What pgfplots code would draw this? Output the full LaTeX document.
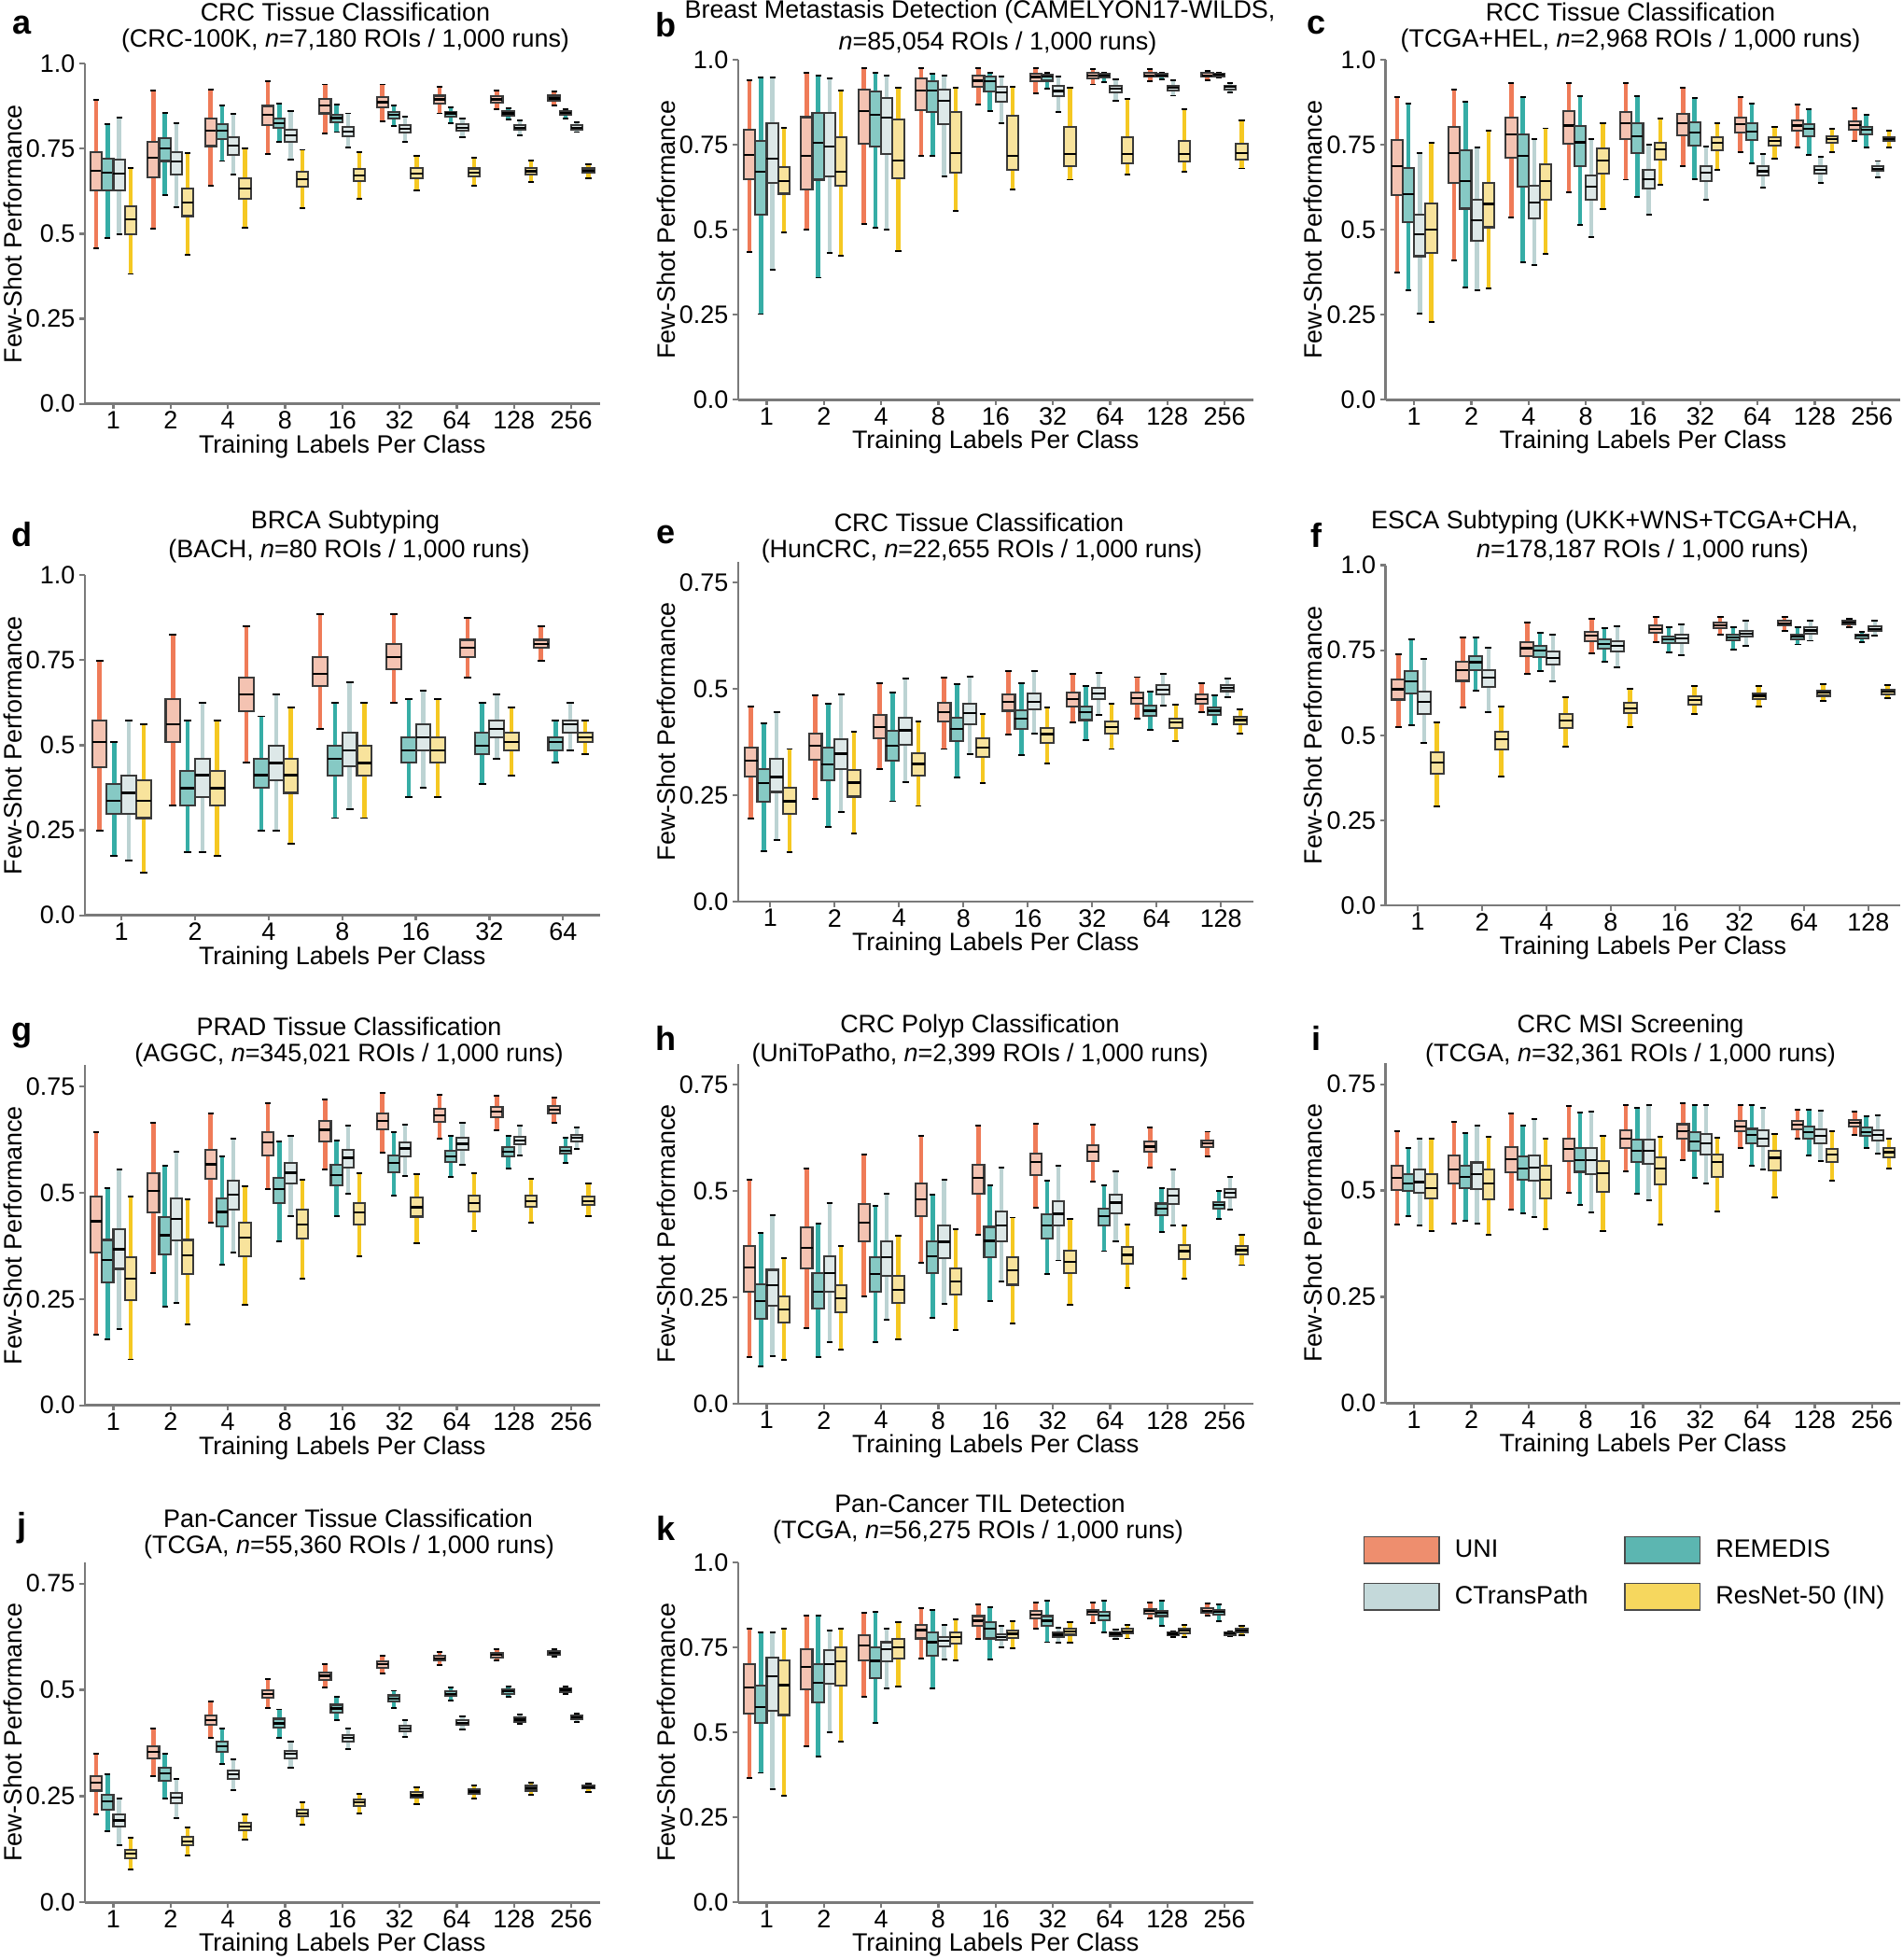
\documentclass[border=0pt]{standalone}
\usepackage{fontspec}
\setmainfont{Liberation Sans}
\usepackage{pgfplots}
\usepackage{pgfplotstable}
\pgfplotsset{compat=1.18}
\usepgfplotslibrary{statistics}

\definecolor{uniF}{HTML}{F4C3B2}
\definecolor{remF}{HTML}{86C9C4}
\definecolor{ctpF}{HTML}{DDE8E8}
\definecolor{rnF}{HTML}{F8E39C}
\definecolor{uniW}{HTML}{EF7B58}
\definecolor{remW}{HTML}{36ADA6}
\definecolor{ctpW}{HTML}{BCD3D3}
\definecolor{rnW}{HTML}{F5C822}
\definecolor{uniL}{HTML}{EE8E6E}
\definecolor{remL}{HTML}{5CB6B1}
\definecolor{ctpL}{HTML}{C4D9DA}
\definecolor{rnL}{HTML}{F6D75E}
\definecolor{edgec}{HTML}{3A3A3A}
\definecolor{axgray}{HTML}{7A7A7A}
\definecolor{legedge}{HTML}{4A4A4A}

\newcommand\fsz{\fontsize{9.7}{11.6}\selectfont}
\def\PX{0.36pt}

% ---------------- data: rows = category x (UNI, REMEDIS, CTransPath, ResNet-50) ----
\pgfplotstableread{
uw uq med lq lw
0.895 0.741 0.686 0.627 0.457
0.822 0.721 0.680 0.627 0.488
0.842 0.718 0.678 0.627 0.499
0.694 0.581 0.543 0.499 0.382
0.922 0.771 0.723 0.666 0.515
0.856 0.782 0.751 0.714 0.613
0.826 0.741 0.712 0.675 0.579
0.737 0.632 0.591 0.552 0.439
0.925 0.838 0.803 0.758 0.641
0.878 0.823 0.803 0.779 0.714
0.852 0.783 0.760 0.733 0.675
0.750 0.664 0.634 0.604 0.518
0.948 0.876 0.849 0.819 0.735
0.884 0.840 0.826 0.811 0.769
0.860 0.806 0.790 0.769 0.718
0.747 0.683 0.661 0.639 0.575
0.939 0.897 0.878 0.854 0.794
0.879 0.851 0.840 0.829 0.799
0.854 0.814 0.801 0.787 0.753
0.741 0.691 0.672 0.654 0.602
0.939 0.901 0.887 0.872 0.831
0.877 0.858 0.849 0.838 0.817
0.844 0.819 0.808 0.797 0.771
0.728 0.693 0.678 0.663 0.627
0.931 0.906 0.895 0.883 0.854
0.872 0.858 0.854 0.844 0.826
0.840 0.822 0.812 0.803 0.783
0.723 0.692 0.680 0.669 0.641
0.922 0.904 0.895 0.886 0.865
0.869 0.861 0.854 0.847 0.835
0.833 0.820 0.812 0.805 0.790
0.715 0.693 0.684 0.675 0.652
0.918 0.906 0.898 0.890 0.876
0.867 0.861 0.855 0.849 0.840
0.828 0.819 0.812 0.806 0.799
0.705 0.692 0.686 0.679 0.663
}\DA
\pgfplotstableread{
uw uq med lq lw
0.940 0.794 0.720 0.648 0.435
0.947 0.762 0.670 0.544 0.252
0.947 0.814 0.709 0.638 0.382
0.799 0.683 0.642 0.606 0.492
0.962 0.831 0.716 0.618 0.499
0.954 0.844 0.755 0.647 0.359
0.945 0.844 0.744 0.656 0.432
0.910 0.771 0.671 0.629 0.424
0.976 0.912 0.849 0.752 0.517
0.961 0.906 0.837 0.744 0.506
0.952 0.887 0.830 0.723 0.501
0.917 0.825 0.703 0.652 0.436
0.976 0.944 0.910 0.851 0.718
0.959 0.936 0.910 0.846 0.716
0.954 0.912 0.878 0.810 0.657
0.918 0.846 0.726 0.668 0.556
0.976 0.953 0.938 0.919 0.867
0.962 0.949 0.936 0.906 0.849
0.950 0.921 0.903 0.876 0.814
0.919 0.834 0.716 0.675 0.619
0.976 0.958 0.949 0.936 0.901
0.961 0.956 0.950 0.938 0.915
0.949 0.924 0.908 0.892 0.846
0.917 0.803 0.723 0.686 0.647
0.973 0.961 0.953 0.945 0.927
0.961 0.958 0.953 0.947 0.935
0.942 0.924 0.915 0.904 0.878
0.885 0.773 0.723 0.695 0.661
0.972 0.961 0.954 0.949 0.936
0.961 0.959 0.954 0.949 0.942
0.940 0.924 0.918 0.910 0.894
0.855 0.762 0.723 0.700 0.670
0.968 0.961 0.954 0.949 0.940
0.961 0.959 0.956 0.951 0.947
0.931 0.924 0.919 0.913 0.904
0.822 0.753 0.726 0.707 0.680
}\DB
\pgfplotstableread{
uw uq med lq lw
0.891 0.763 0.686 0.601 0.373
0.870 0.681 0.605 0.521 0.323
0.724 0.544 0.486 0.422 0.254
0.756 0.576 0.500 0.431 0.229
0.912 0.802 0.725 0.638 0.409
0.875 0.733 0.643 0.562 0.329
0.742 0.587 0.528 0.468 0.323
0.791 0.637 0.576 0.507 0.327
0.932 0.830 0.780 0.711 0.535
0.889 0.779 0.718 0.626 0.405
0.766 0.628 0.580 0.533 0.395
0.798 0.693 0.643 0.587 0.430
0.930 0.848 0.806 0.752 0.611
0.893 0.806 0.757 0.688 0.515
0.766 0.660 0.626 0.587 0.478
0.812 0.738 0.704 0.665 0.560
0.930 0.847 0.814 0.766 0.647
0.893 0.814 0.775 0.724 0.597
0.751 0.676 0.649 0.622 0.544
0.827 0.756 0.736 0.707 0.633
0.917 0.841 0.814 0.777 0.686
0.887 0.815 0.786 0.748 0.649
0.745 0.686 0.667 0.644 0.588
0.812 0.772 0.756 0.733 0.676
0.889 0.829 0.811 0.786 0.729
0.870 0.814 0.789 0.763 0.695
0.722 0.686 0.672 0.660 0.623
0.803 0.772 0.761 0.747 0.708
0.868 0.821 0.806 0.791 0.742
0.853 0.811 0.797 0.775 0.720
0.713 0.687 0.676 0.665 0.638
0.797 0.775 0.766 0.756 0.729
0.856 0.818 0.807 0.793 0.761
0.839 0.803 0.793 0.779 0.743
0.702 0.688 0.679 0.672 0.654
0.791 0.772 0.766 0.761 0.742
}\DC
\pgfplotstableread{
uw uq med lq lw
0.749 0.573 0.510 0.435 0.250
0.510 0.387 0.336 0.298 0.175
0.573 0.412 0.360 0.298 0.161
0.561 0.398 0.336 0.286 0.125
0.824 0.635 0.561 0.510 0.324
0.573 0.424 0.374 0.324 0.186
0.624 0.460 0.412 0.348 0.186
0.573 0.424 0.374 0.324 0.175
0.850 0.699 0.649 0.599 0.448
0.585 0.460 0.412 0.374 0.250
0.649 0.499 0.448 0.396 0.250
0.610 0.460 0.412 0.360 0.211
0.886 0.760 0.710 0.674 0.549
0.624 0.499 0.460 0.412 0.286
0.686 0.537 0.485 0.437 0.312
0.624 0.499 0.448 0.412 0.286
0.886 0.798 0.760 0.724 0.624
0.635 0.523 0.485 0.448 0.348
0.660 0.561 0.523 0.485 0.374
0.635 0.523 0.485 0.448 0.348
0.874 0.810 0.786 0.760 0.699
0.624 0.537 0.499 0.473 0.387
0.649 0.573 0.549 0.523 0.460
0.610 0.537 0.510 0.485 0.412
0.850 0.810 0.798 0.786 0.749
0.573 0.523 0.510 0.485 0.448
0.624 0.573 0.561 0.537 0.485
0.573 0.537 0.523 0.510 0.473
}\DD
\pgfplotstableread{
uw uq med lq lw
0.459 0.363 0.331 0.295 0.195
0.419 0.312 0.278 0.234 0.119
0.445 0.335 0.293 0.258 0.145
0.359 0.268 0.236 0.207 0.116
0.485 0.395 0.366 0.334 0.241
0.465 0.362 0.322 0.286 0.176
0.487 0.383 0.348 0.312 0.211
0.399 0.310 0.280 0.247 0.161
0.514 0.440 0.410 0.385 0.312
0.491 0.402 0.367 0.331 0.236
0.524 0.432 0.403 0.368 0.280
0.423 0.350 0.324 0.297 0.225
0.527 0.467 0.446 0.423 0.359
0.511 0.432 0.407 0.377 0.293
0.530 0.465 0.443 0.417 0.346
0.441 0.384 0.363 0.340 0.278
0.542 0.487 0.469 0.449 0.394
0.514 0.451 0.430 0.407 0.345
0.542 0.489 0.470 0.452 0.396
0.457 0.408 0.394 0.374 0.324
0.536 0.491 0.476 0.459 0.421
0.507 0.458 0.445 0.427 0.379
0.538 0.502 0.489 0.476 0.440
0.465 0.424 0.410 0.396 0.359
0.528 0.491 0.478 0.465 0.430
0.494 0.461 0.449 0.436 0.403
0.535 0.509 0.498 0.487 0.461
0.463 0.430 0.421 0.408 0.378
0.513 0.487 0.476 0.465 0.445
0.485 0.456 0.449 0.440 0.418
0.524 0.509 0.502 0.495 0.480
0.452 0.434 0.427 0.418 0.396
}\DE
\pgfplotstableread{
uw uq med lq lw
0.737 0.665 0.635 0.605 0.523
0.781 0.689 0.658 0.624 0.530
0.724 0.628 0.598 0.562 0.477
0.539 0.449 0.420 0.386 0.292
0.788 0.717 0.692 0.660 0.582
0.788 0.733 0.715 0.691 0.630
0.758 0.692 0.669 0.642 0.569
0.584 0.511 0.489 0.458 0.379
0.831 0.774 0.756 0.733 0.680
0.801 0.763 0.749 0.731 0.688
0.797 0.747 0.728 0.708 0.658
0.612 0.563 0.543 0.522 0.466
0.843 0.805 0.792 0.776 0.740
0.815 0.781 0.769 0.755 0.717
0.820 0.776 0.763 0.746 0.700
0.637 0.595 0.580 0.566 0.523
0.849 0.822 0.813 0.802 0.774
0.819 0.790 0.781 0.770 0.744
0.825 0.797 0.785 0.772 0.735
0.646 0.615 0.603 0.589 0.562
0.849 0.831 0.824 0.816 0.795
0.819 0.795 0.787 0.779 0.753
0.836 0.808 0.799 0.790 0.763
0.646 0.624 0.616 0.607 0.584
0.847 0.836 0.829 0.822 0.808
0.817 0.797 0.790 0.783 0.767
0.836 0.817 0.808 0.799 0.778
0.650 0.632 0.626 0.616 0.600
0.842 0.836 0.831 0.825 0.817
0.805 0.797 0.792 0.785 0.774
0.836 0.820 0.813 0.806 0.793
0.647 0.635 0.628 0.621 0.610
}\DF
\pgfplotstableread{
uw uq med lq lw
0.642 0.492 0.433 0.359 0.166
0.510 0.389 0.342 0.290 0.155
0.554 0.415 0.367 0.321 0.179
0.492 0.348 0.298 0.248 0.108
0.665 0.547 0.505 0.453 0.311
0.563 0.442 0.400 0.355 0.233
0.596 0.487 0.439 0.388 0.241
0.484 0.389 0.353 0.309 0.190
0.687 0.601 0.567 0.532 0.430
0.585 0.487 0.455 0.421 0.331
0.627 0.528 0.495 0.460 0.359
0.516 0.430 0.394 0.351 0.237
0.711 0.642 0.618 0.587 0.508
0.621 0.536 0.508 0.476 0.386
0.634 0.571 0.547 0.521 0.444
0.530 0.460 0.426 0.393 0.298
0.720 0.669 0.648 0.620 0.554
0.622 0.565 0.541 0.517 0.446
0.659 0.601 0.582 0.559 0.497
0.545 0.476 0.454 0.426 0.351
0.735 0.687 0.669 0.649 0.594
0.643 0.587 0.570 0.549 0.493
0.661 0.618 0.604 0.585 0.539
0.543 0.488 0.466 0.444 0.382
0.731 0.697 0.682 0.667 0.627
0.634 0.598 0.585 0.572 0.538
0.665 0.629 0.615 0.601 0.565
0.545 0.493 0.476 0.457 0.409
0.728 0.702 0.691 0.678 0.647
0.634 0.607 0.596 0.585 0.556
0.659 0.632 0.623 0.614 0.588
0.533 0.494 0.481 0.466 0.430
0.724 0.704 0.695 0.687 0.665
0.629 0.607 0.599 0.592 0.571
0.654 0.636 0.629 0.621 0.604
0.521 0.492 0.481 0.471 0.446
}\DG
\pgfplotstableread{
uw uq med lq lw
0.527 0.372 0.321 0.263 0.109
0.401 0.281 0.242 0.200 0.087
0.443 0.315 0.278 0.230 0.111
0.343 0.253 0.222 0.191 0.104
0.554 0.414 0.367 0.318 0.177
0.423 0.307 0.264 0.224 0.109
0.473 0.347 0.307 0.263 0.144
0.372 0.278 0.248 0.215 0.128
0.587 0.470 0.426 0.383 0.253
0.465 0.345 0.306 0.263 0.144
0.494 0.383 0.345 0.301 0.197
0.396 0.301 0.268 0.237 0.151
0.631 0.519 0.481 0.442 0.332
0.491 0.383 0.347 0.307 0.201
0.526 0.419 0.381 0.343 0.235
0.410 0.319 0.288 0.257 0.173
0.654 0.562 0.531 0.494 0.397
0.514 0.416 0.383 0.345 0.242
0.555 0.453 0.420 0.383 0.288
0.438 0.345 0.314 0.280 0.188
0.659 0.589 0.569 0.537 0.462
0.524 0.445 0.419 0.389 0.305
0.560 0.476 0.447 0.419 0.337
0.435 0.361 0.334 0.307 0.232
0.657 0.608 0.592 0.571 0.522
0.514 0.459 0.442 0.419 0.359
0.546 0.492 0.473 0.447 0.381
0.421 0.368 0.350 0.329 0.273
0.649 0.617 0.605 0.592 0.556
0.508 0.471 0.459 0.443 0.403
0.551 0.505 0.489 0.470 0.419
0.419 0.374 0.359 0.341 0.295
0.640 0.620 0.613 0.604 0.581
0.500 0.474 0.467 0.459 0.435
0.533 0.505 0.497 0.485 0.456
0.397 0.372 0.361 0.351 0.326
}\DH
\pgfplotstableread{
uw uq med lq lw
0.640 0.558 0.529 0.501 0.419
0.599 0.538 0.516 0.499 0.440
0.623 0.549 0.520 0.495 0.417
0.622 0.538 0.505 0.481 0.405
0.661 0.583 0.550 0.517 0.423
0.635 0.558 0.532 0.506 0.429
0.653 0.566 0.538 0.503 0.423
0.627 0.549 0.516 0.479 0.395
0.682 0.602 0.573 0.543 0.456
0.653 0.580 0.552 0.525 0.446
0.668 0.583 0.554 0.523 0.437
0.622 0.558 0.525 0.481 0.408
0.699 0.622 0.598 0.569 0.494
0.683 0.601 0.572 0.544 0.467
0.686 0.600 0.571 0.539 0.449
0.629 0.569 0.541 0.496 0.405
0.700 0.642 0.622 0.601 0.545
0.694 0.620 0.593 0.567 0.492
0.701 0.620 0.594 0.562 0.477
0.626 0.578 0.552 0.514 0.421
0.706 0.656 0.640 0.622 0.572
0.702 0.637 0.616 0.593 0.529
0.701 0.633 0.611 0.585 0.517
0.624 0.585 0.567 0.532 0.451
0.701 0.664 0.651 0.639 0.601
0.701 0.645 0.631 0.611 0.558
0.694 0.642 0.622 0.604 0.549
0.633 0.593 0.577 0.547 0.483
0.691 0.664 0.655 0.644 0.622
0.691 0.651 0.638 0.622 0.582
0.688 0.644 0.628 0.612 0.569
0.640 0.598 0.585 0.567 0.523
0.686 0.666 0.660 0.651 0.631
0.675 0.648 0.638 0.628 0.600
0.677 0.642 0.631 0.618 0.587
0.622 0.600 0.590 0.579 0.552
}\DI
\pgfplotstableread{
uw uq med lq lw
0.350 0.297 0.282 0.263 0.208
0.301 0.253 0.237 0.219 0.168
0.244 0.208 0.193 0.179 0.135
0.153 0.124 0.115 0.104 0.078
0.410 0.368 0.354 0.339 0.297
0.350 0.316 0.303 0.287 0.244
0.290 0.258 0.246 0.233 0.199
0.177 0.155 0.144 0.135 0.111
0.473 0.440 0.429 0.417 0.388
0.409 0.379 0.367 0.355 0.325
0.336 0.310 0.301 0.290 0.265
0.208 0.187 0.179 0.169 0.147
0.525 0.500 0.491 0.481 0.457
0.454 0.432 0.421 0.412 0.387
0.379 0.357 0.349 0.339 0.317
0.236 0.219 0.210 0.202 0.182
0.560 0.541 0.533 0.524 0.505
0.483 0.465 0.456 0.447 0.428
0.410 0.394 0.387 0.378 0.361
0.255 0.242 0.235 0.226 0.210
0.580 0.567 0.560 0.552 0.538
0.498 0.487 0.479 0.472 0.457
0.428 0.416 0.409 0.403 0.390
0.270 0.259 0.252 0.246 0.231
0.589 0.580 0.574 0.569 0.558
0.505 0.496 0.490 0.485 0.474
0.438 0.429 0.423 0.417 0.406
0.275 0.266 0.261 0.255 0.244
0.595 0.587 0.582 0.576 0.569
0.507 0.501 0.496 0.491 0.483
0.441 0.436 0.430 0.425 0.419
0.281 0.274 0.268 0.263 0.254
0.595 0.591 0.587 0.582 0.578
0.507 0.503 0.500 0.495 0.490
0.444 0.439 0.436 0.430 0.425
0.279 0.276 0.271 0.268 0.260
}\DJ
\pgfplotstableread{
uw uq med lq lw
0.804 0.701 0.633 0.555 0.365
0.795 0.637 0.575 0.528 0.381
0.795 0.721 0.664 0.564 0.333
0.804 0.712 0.639 0.551 0.313
0.842 0.744 0.692 0.627 0.459
0.842 0.701 0.646 0.589 0.429
0.799 0.742 0.700 0.642 0.500
0.804 0.751 0.708 0.637 0.473
0.851 0.785 0.756 0.711 0.605
0.854 0.751 0.710 0.660 0.528
0.805 0.765 0.744 0.710 0.630
0.824 0.774 0.751 0.717 0.635
0.866 0.817 0.801 0.776 0.717
0.860 0.793 0.765 0.726 0.628
0.816 0.781 0.770 0.753 0.714
0.833 0.793 0.781 0.761 0.711
0.877 0.842 0.828 0.813 0.774
0.869 0.824 0.804 0.776 0.714
0.813 0.788 0.781 0.772 0.749
0.826 0.799 0.790 0.778 0.746
0.881 0.856 0.847 0.834 0.806
0.886 0.842 0.828 0.813 0.765
0.808 0.793 0.787 0.779 0.764
0.824 0.805 0.797 0.787 0.763
0.881 0.860 0.854 0.845 0.822
0.886 0.854 0.843 0.829 0.795
0.801 0.795 0.790 0.783 0.774
0.817 0.804 0.797 0.790 0.776
0.881 0.863 0.857 0.849 0.834
0.886 0.858 0.851 0.842 0.813
0.797 0.795 0.790 0.785 0.779
0.816 0.805 0.799 0.792 0.781
0.879 0.865 0.858 0.851 0.842
0.877 0.860 0.854 0.845 0.828
0.797 0.795 0.792 0.787 0.783
0.813 0.804 0.799 0.795 0.785
}\DK

\pgfplotscreateplotcyclelist{mods}{%
{solid,draw=edgec,line width=0.75pt,fill=uniF,boxplot/every whisker/.style={draw=uniW,line width=1.6pt}}\\%
{solid,draw=edgec,line width=0.75pt,fill=remF,boxplot/every whisker/.style={draw=remW,line width=1.6pt}}\\%
{solid,draw=edgec,line width=0.75pt,fill=ctpF,boxplot/every whisker/.style={draw=ctpW,line width=1.6pt}}\\%
{solid,draw=edgec,line width=0.75pt,fill=rnF,boxplot/every whisker/.style={draw=rnW,line width=1.6pt}}\\%
}

\pgfplotsset{
  boxplot/draw/lower whisker/.code={%
    \draw[/pgfplots/boxplot/every whisker/.try]
      (boxplot box cs:\pgfplotsboxplotvalue{lower quartile},0.5) --
      (boxplot box cs:\pgfplotsboxplotvalue{lower whisker},0.5);
    \draw[draw=black,line width=0.7pt]
      (boxplot whisker cs:\pgfplotsboxplotvalue{lower whisker},0) --
      (boxplot whisker cs:\pgfplotsboxplotvalue{lower whisker},1);
  },
  boxplot/draw/upper whisker/.code={%
    \draw[/pgfplots/boxplot/every whisker/.try]
      (boxplot box cs:\pgfplotsboxplotvalue{upper quartile},0.5) --
      (boxplot box cs:\pgfplotsboxplotvalue{upper whisker},0.5);
    \draw[draw=black,line width=0.7pt]
      (boxplot whisker cs:\pgfplotsboxplotvalue{upper whisker},0) --
      (boxplot whisker cs:\pgfplotsboxplotvalue{upper whisker},1);
  },
  fsax/.style={
    scale only axis, width=198.7pt, height=131.2pt,
    anchor=south west,
    axis x line*=bottom, axis y line*=left,
    axis line style={draw=axgray, line width=0.9pt},
    tick align=outside, major tick length=2pt,
    tick style={draw=axgray, line width=0.8pt},
    xmin=-0.5, ymin=0,
    tick label style={font=\fsz},
    xticklabel style={yshift=2.5pt},
    yticklabel style={xshift=1.8pt},
    label style={font=\fsz},
    /pgf/number format/assume math mode=true,
    xlabel={Training Labels Per Class},
    ylabel={Few-Shot Performance},
    xlabel style={at={(axis description cs:0.5,-0.125)}, anchor=center},
    ylabel style={at={(axis description cs:-0.14,0.5)}, anchor=center},
    cycle list name=mods,
    boxplot/draw direction=y,
    boxplot/box extend=0.2,
    boxplot/whisker extend=0.1,
    boxplot/every median/.style={draw=black, line width=0.8pt},
    clip=false,
  },
  yfull/.style={ymax=1, ytick={0,0.25,0.5,0.75,1}, yticklabels={0.0,0.25,0.5,0.75,1.0}},
  ypart/.style={ymax=0.8, ytick={0,0.25,0.5,0.75}, yticklabels={0.0,0.25,0.5,0.75}},
  nine/.style={xmax=8.5, xtick={0,...,8}, xticklabels={1,2,4,8,16,32,64,128,256}},
  eight/.style={xmax=7.5, xtick={0,...,7}, xticklabels={1,2,4,8,16,32,64,128}},
  seven/.style={xmax=6.5, xtick={0,...,6}, xticklabels={1,2,4,8,16,32,64}},
}

% one box per table row; position = category + offset of the series
\newcommand\boxes[2]{%
  \pgfplotsinvokeforeach{0,...,#2}{%
    \pgfplotstablegetelem{##1}{lw}\of#1\let\vlw\pgfplotsretval
    \pgfplotstablegetelem{##1}{lq}\of#1\let\vlq\pgfplotsretval
    \pgfplotstablegetelem{##1}{med}\of#1\let\vmed\pgfplotsretval
    \pgfplotstablegetelem{##1}{uq}\of#1\let\vuq\pgfplotsretval
    \pgfplotstablegetelem{##1}{uw}\of#1\let\vuw\pgfplotsretval
    \pgfmathsetmacro\vpos{floor(##1/4)+0.2*mod(##1,4)-0.3}%
    \edef\doplot{\noexpand\addplot+[boxplot prepared={lower whisker=\vlw, lower quartile=\vlq, median=\vmed, upper quartile=\vuq, upper whisker=\vuw, draw position=\vpos}] coordinates {};}%
    \doplot
  }%
}

\begin{document}
\begin{tikzpicture}[font=\fsz]
\path[use as bounding box] (0,0) rectangle (2039*\PX,-2100*\PX);

% ---- row 1
\begin{axis}[fsax, yfull, nine, at={(90.8*\PX,-432.7*\PX)}]
\boxes{\DA}{35}
\end{axis}
\begin{axis}[fsax, yfull, nine, at={(790.8*\PX,-428.3*\PX)}]
\boxes{\DB}{35}
\end{axis}
\begin{axis}[fsax, yfull, nine, at={(1484.5*\PX,-428.3*\PX)}]
\boxes{\DC}{35}
\end{axis}
% ---- row 2
\begin{axis}[fsax, yfull, seven, at={(90.8*\PX,-980.7*\PX)}]
\boxes{\DD}{27}
\end{axis}
\begin{axis}[fsax, ypart, eight, at={(790.8*\PX,-966*\PX)}]
\boxes{\DE}{31}
\end{axis}
\begin{axis}[fsax, yfull, eight, at={(1484.5*\PX,-970*\PX)}]
\boxes{\DF}{31}
\end{axis}
% ---- row 3
\begin{axis}[fsax, ypart, nine, at={(90.8*\PX,-1505.7*\PX)}]
\boxes{\DG}{35}
\end{axis}
\begin{axis}[fsax, ypart, nine, at={(790.8*\PX,-1504*\PX)}]
\boxes{\DH}{35}
\end{axis}
\begin{axis}[fsax, ypart, nine, at={(1484.5*\PX,-1503.3*\PX)}]
\boxes{\DI}{35}
\end{axis}
% ---- row 4
\begin{axis}[fsax, ypart, nine, at={(90.8*\PX,-2038.3*\PX)}]
\boxes{\DJ}{35}
\end{axis}
\begin{axis}[fsax, yfull, nine, at={(790.8*\PX,-2038.3*\PX)}]
\boxes{\DK}{35}
\end{axis}

% ---- legend
\begin{axis}[hide axis, scale only axis, width=10pt, height=10pt,
  xmin=0, xmax=1, ymin=0, ymax=1,
  at={(1460*\PX,-1645*\PX)}, anchor=north west,
  legend columns=2, legend cell align=left,
  legend style={at={(0,1)}, anchor=north west, draw=none, fill=none,
    inner sep=0pt, font=\fsz, row sep=7pt,
    nodes={inner sep=0pt},
    /tikz/every odd column/.append style={column sep=5.8pt},
    /tikz/every even column/.append style={column sep=13.8pt}}]
\addlegendimage{legend image code/.code={\draw[fill=uniL,draw=legedge,line width=0.6pt] (0pt,-5.2pt) rectangle (29pt,5.2pt);}}
\addlegendentry{UNI}
\addlegendimage{legend image code/.code={\draw[fill=remL,draw=legedge,line width=0.6pt] (0pt,-5.2pt) rectangle (29pt,5.2pt);}}
\addlegendentry{REMEDIS}
\addlegendimage{legend image code/.code={\draw[fill=ctpL,draw=legedge,line width=0.6pt] (0pt,-5.2pt) rectangle (29pt,5.2pt);}}
\addlegendentry{CTransPath}
\addlegendimage{legend image code/.code={\draw[fill=rnL,draw=legedge,line width=0.6pt] (0pt,-5.2pt) rectangle (29pt,5.2pt);}}
\addlegendentry{ResNet-50 (IN)}
\end{axis}

% ---- titles
\node at (370*\PX,-13*\PX) {CRC Tissue Classification};
\node at (370*\PX,-44*\PX) {(CRC-100K, \textit{n}=7,180 ROIs / 1,000 runs)};
\node at (1050*\PX,-13*\PX) {Breast Metastasis Detection (CAMELYON17-WILDS,};
\node at (1069*\PX,-47*\PX) {\textit{n}=85,054 ROIs / 1,000 runs)};
\node at (1747*\PX,-13*\PX) {RCC Tissue Classification};
\node at (1747*\PX,-44*\PX) {(TCGA+HEL, \textit{n}=2,968 ROIs / 1,000 runs)};

\node at (370*\PX,-560*\PX) {BRCA Subtyping};
\node at (374*\PX,-591*\PX) {(BACH, \textit{n}=80 ROIs / 1,000 runs)};
\node at (1049*\PX,-560*\PX) {CRC Tissue Classification};
\node at (1052*\PX,-591*\PX) {(HunCRC, \textit{n}=22,655 ROIs / 1,000 runs)};
\node at (1730*\PX,-560*\PX) {ESCA Subtyping (UKK+WNS+TCGA+CHA,};
\node at (1760*\PX,-591*\PX) {\textit{n}=178,187 ROIs / 1,000 runs)};

\node at (374*\PX,-1100*\PX) {PRAD Tissue Classification};
\node at (374*\PX,-1131*\PX) {(AGGC, \textit{n}=345,021 ROIs / 1,000 runs)};
\node at (1050*\PX,-1100*\PX) {CRC Polyp Classification};
\node at (1050*\PX,-1131*\PX) {(UniToPatho, \textit{n}=2,399 ROIs / 1,000 runs)};
\node at (1747*\PX,-1100*\PX) {CRC MSI Screening};
\node at (1747*\PX,-1131*\PX) {(TCGA, \textit{n}=32,361 ROIs / 1,000 runs)};

\node at (373*\PX,-1627*\PX) {Pan-Cancer Tissue Classification};
\node at (374*\PX,-1658*\PX) {(TCGA, \textit{n}=55,360 ROIs / 1,000 runs)};
\node at (1050*\PX,-1611*\PX) {Pan-Cancer TIL Detection};
\node at (1048*\PX,-1642*\PX) {(TCGA, \textit{n}=56,275 ROIs / 1,000 runs)};

% ---- panel letters
\begin{scope}[every node/.style={font=\fontsize{13}{13}\bfseries\selectfont}]
\node at (24*\PX,-27*\PX) {a};
\node at (714*\PX,-27*\PX) {b};
\node at (1411*\PX,-27*\PX) {c};
\node at (24*\PX,-573*\PX) {d};
\node at (714*\PX,-573*\PX) {e};
\node at (1411*\PX,-573*\PX) {f};
\node at (24*\PX,-1110*\PX) {g};
\node at (714*\PX,-1112*\PX) {h};
\node at (1411*\PX,-1112*\PX) {i};
\node at (24*\PX,-1637*\PX) {j};
\node at (714*\PX,-1637*\PX) {k};
\end{scope}
\end{tikzpicture}
\end{document}
